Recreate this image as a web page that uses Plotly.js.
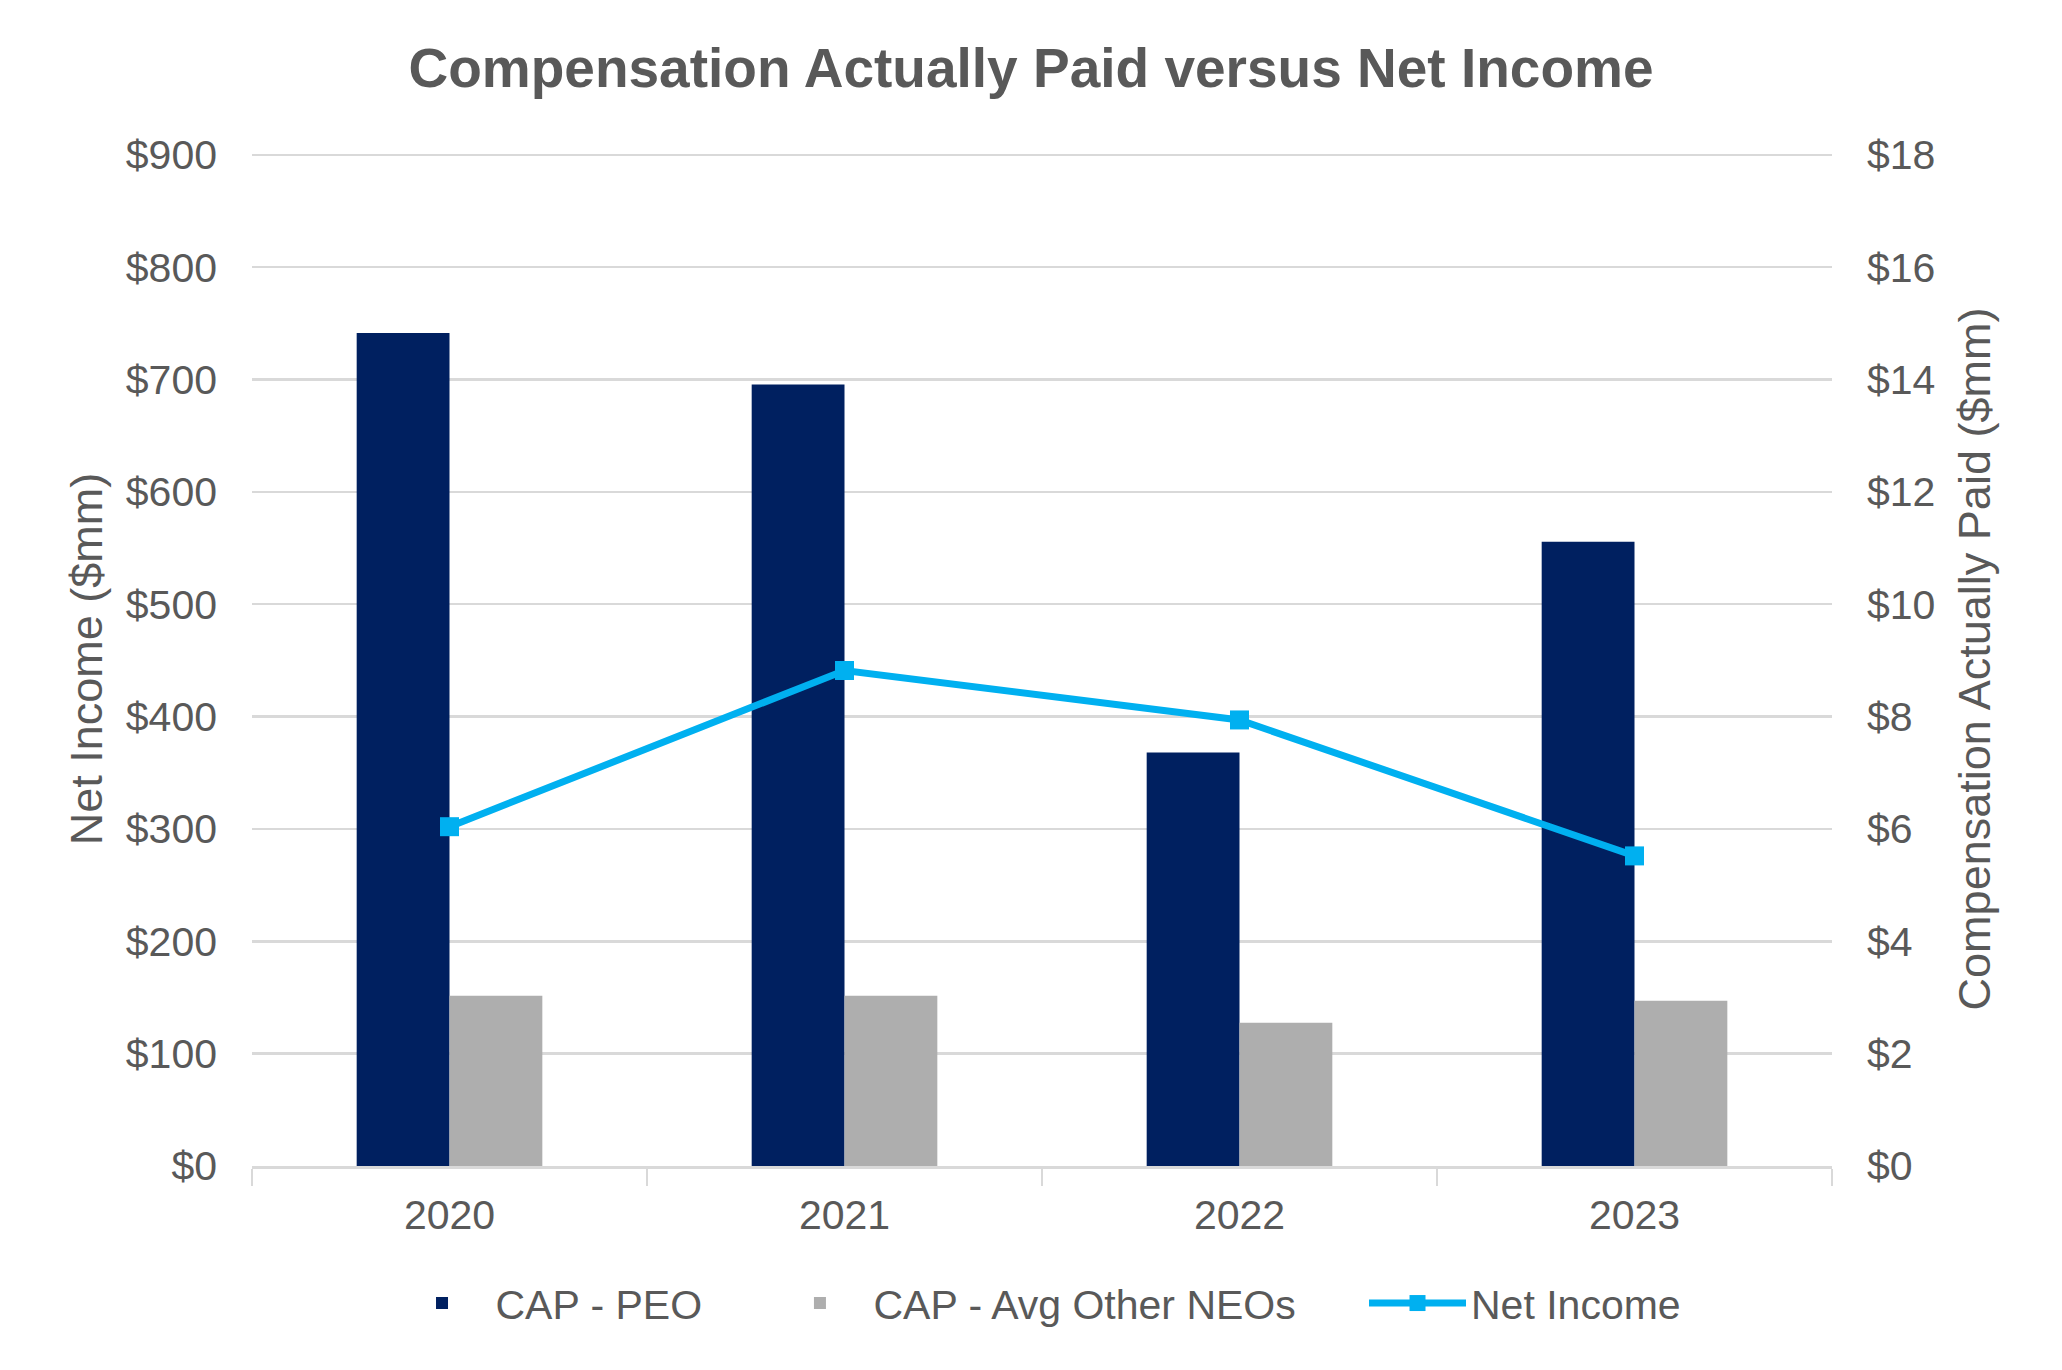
<!DOCTYPE html>
<html><head><meta charset="utf-8">
<script src="https://cdn.plot.ly/plotly-3.0.1.min.js"></script>
<style>html,body{margin:0;padding:0;background:#fff}#chart{width:2062px;height:1370px;outline:3px solid #d9d9d9;outline-offset:-3px}</style>
</head><body><div id="chart"></div><script>
const years = ['2020', '2021', '2022', '2023'];
const capPEO = [14.83, 13.91, 7.36, 11.11];
const capOtherNEOs = [3.03, 3.03, 2.55, 2.94];
const netIncome = [302, 441, 397, 276];
const seriesNames = ['CAP - PEO', 'CAP - Avg Other NEOs', 'Net Income'];

const FONT = '"Liberation Sans", Arial, sans-serif';
const TXT = '#595959';

const traces = [
  {type: 'bar', name: seriesNames[0], x: years, y: capPEO, yaxis: 'y', legend: 'legend',
   marker: {color: '#002060'}, hoverinfo: 'x+y'},
  {type: 'bar', name: seriesNames[1], x: years, y: capOtherNEOs, yaxis: 'y', legend: 'legend2',
   marker: {color: '#AEAEAE'}, hoverinfo: 'x+y'},
  {type: 'scatter', mode: 'lines+markers', name: seriesNames[2], x: years, y: netIncome, yaxis: 'y2', legend: 'legend3',
   line: {color: '#00B0F0', width: 7}, marker: {symbol: 'square', size: 19, color: '#00B0F0'}}
];

function legendAt(x) {
  return {orientation: 'h', x: x, xanchor: 'left', y: -0.1355, yanchor: 'middle',
          font: {family: FONT, size: 41, color: TXT}, itemwidth: 97,
          bgcolor: 'rgba(0,0,0,0)', borderwidth: 0};
}

const layout = {
  width: 2062, height: 1370,
  paper_bgcolor: '#ffffff', plot_bgcolor: '#ffffff',
  margin: {l: 252, r: 230, t: 152, b: 204},
  font: {family: FONT, color: TXT, size: 41},
  title: {text: '<b>Compensation Actually Paid versus Net Income</b>',
          font: {family: FONT, size: 55, color: TXT},
          x: 0.5, xref: 'container', xanchor: 'center',
          y: 1 - 68/1370, yref: 'container', yanchor: 'middle'},
  barmode: 'group', bargap: 0.53, bargroupgap: 0,
  showlegend: true,
  legend: legendAt(0.0864),
  legend2: legendAt(0.3256),
  legend3: legendAt(0.7038),
  xaxis: {type: 'category', tickson: 'boundaries', ticks: 'outside', ticklen: 17, tickwidth: 2,
          tickcolor: '#D9D9D9', showline: true, linecolor: '#D9D9D9', linewidth: 3,
          showgrid: false, tickfont: {family: FONT, size: 41, color: TXT}, ticklabelstandoff: 11},
  yaxis: {range: [0, 18.05], tick0: 0, dtick: 2, tickprefix: '$', side: 'right', showgrid: true,
          gridcolor: '#D9D9D9', gridwidth: 2.5, zeroline: false, ticks: '',
          ticklabelstandoff: 34, tickfont: {family: FONT, size: 41, color: TXT},
          title: {text: 'Compensation Actually Paid ($mm)', font: {family: FONT, size: 45, color: TXT}, standoff: 24}},
  yaxis2: {range: [0, 902.5], tick0: 0, dtick: 100, tickprefix: '$', side: 'left', overlaying: 'y',
           showgrid: false, zeroline: false, ticks: '',
           ticklabelstandoff: 34, tickfont: {family: FONT, size: 41, color: TXT},
           title: {text: 'Net Income ($mm)', font: {family: FONT, size: 45, color: TXT}, standoff: 9}}
};

Plotly.newPlot('chart', traces, layout, {displayModeBar: false, staticPlot: true});
</script></body></html>
